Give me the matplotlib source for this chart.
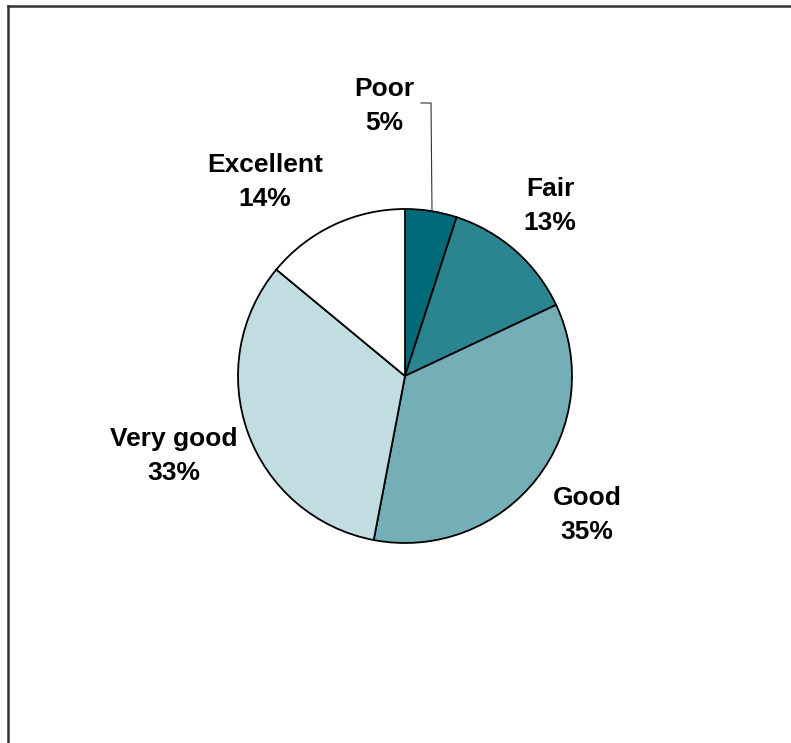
import matplotlib.pyplot as plt
from matplotlib.lines import Line2D

plt.rcParams['font.family'] = ['Liberation Sans', 'DejaVu Sans']

categories = ['Poor', 'Fair', 'Good', 'Very good', 'Excellent']
shares = [5, 13, 35, 33, 14]
colors = ['#006a78', '#2a8590', '#74afb7', '#c1dde1', '#ffffff']

# label anchor points in pixels (x, y from top)
label_pos = [(384, 106), (550, 206), (587, 515), (174, 456), (265, 182)]

W, H = 791, 743
fig = plt.figure(figsize=(W / 100, H / 100), dpi=100)
ax = fig.add_axes([0, 0, 1, 1])

cx, cy, r = 405, H - 376, 167
ax.pie(shares, colors=colors, startangle=90, counterclock=False,
       center=(cx, cy), radius=r, frame=True,
       wedgeprops=dict(edgecolor='black', linewidth=1.3))
ax.set_xlim(0, W)
ax.set_ylim(0, H)
ax.set_aspect('equal')
ax.axis('off')

for name, val, (px, py) in zip(categories, shares, label_pos):
    ax.text(px, H - py, f'{name}\n{val}%', ha='center', va='center',
            fontsize=19, fontweight='bold', linespacing=1.5)

# leader line for the small slice
ax.plot([421, 431, 432], [H - 103, H - 103, H - 211], color='#333333', lw=0.8)

# frame lines (top and left only)
fig.add_artist(Line2D([8 / W, 1], [1 - 6 / H, 1 - 6 / H], color='#333333', lw=1.8))
fig.add_artist(Line2D([8 / W, 8 / W], [0, 1 - 6 / H], color='#333333', lw=1.8))

fig.savefig('out.png', dpi=100)
